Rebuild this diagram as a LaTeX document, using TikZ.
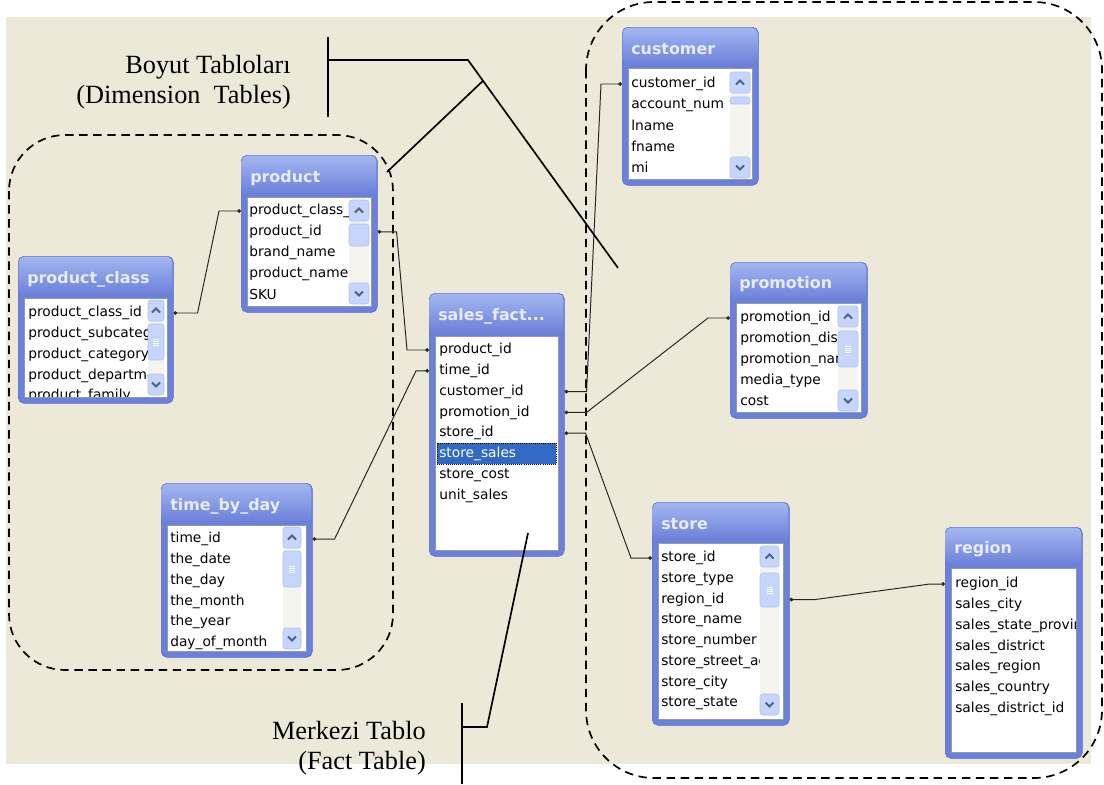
\documentclass[tikz,border=0pt]{standalone}
\usepackage{fontspec}
\setmainfont{Liberation Serif}
\newfontfamily\xpfont{DejaVu Sans}
\usetikzlibrary{arrows.meta,calc}
\definecolor{xpBeige}{HTML}{ECE9D8}
\definecolor{xpTop}{HTML}{A3B6F1}
\definecolor{xpBody}{HTML}{6C80D9}
\definecolor{xpEdge}{HTML}{5669C9}
\definecolor{xpTitle}{HTML}{E6ECFC}
\definecolor{xpList}{HTML}{8C9BB5}
\definecolor{xpTrack}{HTML}{F4F3EE}
\definecolor{xpBtn}{HTML}{C6D5FB}
\definecolor{xpBtnEdge}{HTML}{AFC3F1}
\definecolor{xpArrow}{HTML}{4D6185}
\definecolor{xpSelect}{HTML}{316AC5}

\tikzset{
  tblframe/.style={fill=xpBody, draw=xpEdge, rounded corners=4pt, inner sep=0pt},
  tbltitle/.style={text=xpTitle, font=\xpfont\bfseries\fontsize{11.3}{13}\selectfont, anchor=west, inner sep=0pt},
  tbllist/.style={fill=white, draw=xpList},
  field/.style={font=\xpfont\fontsize{9.8}{11}\selectfont, anchor=west, inner sep=0pt},
  sbbtn/.style={fill=xpBtn, draw=xpBtnEdge, rounded corners=2pt},
  sbchev/.style={draw=xpArrow, line width=1.4pt},
  sbgrip/.style={draw=white, line width=0.4pt},
  link/.style={draw=black!85, line width=0.7pt, {Circle[length=2.6pt]}-{Circle[length=2.6pt]}},
  callout/.style={draw=black, line width=1.2pt},
  dimzone/.style={draw=black, line width=1.2pt, dash pattern=on 6pt off 4pt},
  lbl/.style={font=\fontsize{18.7}{21.8}\selectfont, align=right, anchor=east, inner sep=0pt}
}

% table frame: name, x1, y1, x2, y2, list top, title
\newcommand{\xptable}[7]{%
  \node[tblframe, anchor=north west, minimum width={(#4-#2)*0.025cm}, minimum height={(#5-#3)*0.025cm}] (#1) at (#2,#3) {};
  \shade[top color=xpTop, bottom color=xpBody, rounded corners=4pt] ({#2+0.6},{#3+0.6}) rectangle ({#4-0.6},{#6-3});
  \node[tbltitle] (#1-t) at ({#2+9},{(#3+#6)/2+2}) {#7};
  \draw[tbllist] ({#2+6},#6) rectangle ({#4-6},{#5-6});
}

% scrollbar: x1, x2, top, bottom, thumb top, thumb bottom, grip
\newcommand{\xpscroll}[7]{%
  \fill[xpTrack] (#1,#3) rectangle (#2,#4);
  \draw[sbbtn] (#1,#3) rectangle (#2,{#3+21});
  \draw[sbchev] ({(#1+#2)/2-4},{#3+12.5}) -- ({(#1+#2)/2},{#3+8.5}) -- ({(#1+#2)/2+4},{#3+12.5});
  \draw[sbbtn] (#1,{#4-21}) rectangle (#2,#4);
  \draw[sbchev] ({(#1+#2)/2-4},{#4-12.5}) -- ({(#1+#2)/2},{#4-8.5}) -- ({(#1+#2)/2+4},{#4-12.5});
  \draw[sbbtn] (#1,#5) rectangle (#2,#6);
  \ifnum#7=1
    \foreach \g in {-3,-1,1,3}
      \draw[sbgrip] ({(#1+#2)/2-3},{(#5+#6)/2+\g}) -- ({(#1+#2)/2+3},{(#5+#6)/2+\g});
  \fi
}

\begin{document}
\begin{tikzpicture}[x=0.025cm, y=-0.025cm]
    \useasboundingbox (0,0) rectangle (1104,784);
    % Background
    \fill[xpBeige] (6,17) rectangle (1091,764);

    % Dimension zones
    \draw[dimzone, rounded corners=1.4cm] (9,135) rectangle (393,670);
    \draw[dimzone, rounded corners=1.7cm] (586,2) rectangle (1102,778);

% product_class
    \xptable{pclass}{18}{256}{173}{403}{298}{product\_class}
    \xpscroll{148}{164}{300}{395}{324}{360}{1}
    \begin{scope}
      \clip (25,299) rectangle (147,396);
      \foreach \f [count=\i] in {product\_class\_id, product\_subcategory, product\_category, product\_department, product\_family}
        \node[field] (pc-\i) at (28,{313+20.8*(\i-1)}) {\f};
    \end{scope}

% product
    \xptable{product}{241}{155}{377}{312}{197}{product}
    \xpscroll{349}{369}{200}{304}{224}{246}{0}
    \begin{scope}
      \clip (248,198) rectangle (348,305);
      \foreach \f [count=\i] in {product\_class\_id, product\_id, brand\_name, product\_name, SKU}
        \node[field] (pr-\i) at (249,{211+20.8*(\i-1)}) {\f};
    \end{scope}

% sales_fact
    \xptable{fact}{429}{293}{564}{556}{336}{sales\_fact...}
    \fill[xpSelect] (437,443) rectangle (556,464);
    \draw[black, densely dotted, line width=0.5pt] (437,443) rectangle (556,464);
    \foreach \f/\c [count=\i] in {product\_id/black, time\_id/black, customer\_id/black, promotion\_id/black, store\_id/black, store\_sales/white, store\_cost/black, unit\_sales/black}
      \node[field, text=\c] (sf-\i) at (439,{350+20.8*(\i-1)}) {\f};

% time_by_day
    \xptable{tbd}{161}{483}{312}{657}{525}{time\_by\_day}
    \xpscroll{283}{301}{527}{649}{551}{587}{1}
    \begin{scope}
      \clip (168,526) rectangle (282,650);
      \foreach \f [count=\i] in {time\_id, the\_date, the\_day, the\_month, the\_year, day\_of\_month}
        \node[field] (td-\i) at (170,{539+20.8*(\i-1)}) {\f};
    \end{scope}

% customer
    \xptable{customer}{622}{27}{758}{185}{68}{customer}
    \xpscroll{730}{750}{72}{178}{97}{104}{0}
    \begin{scope}
      \clip (629,69) rectangle (729,179);
      \foreach \f [count=\i] in {customer\_id, account\_num, lname, fname, mi}
        \node[field] (cu-\i) at (631,{84+20.8*(\i-1)}) {\f};
    \end{scope}

% promotion
    \xptable{promo}{730}{262}{867}{418}{303}{promotion}
    \xpscroll{838}{858}{306}{411}{331}{367}{1}
    \begin{scope}
      \clip (738,304) rectangle (837,412);
      \foreach \f [count=\i] in {promotion\_id, promotion\_district\_id, promotion\_name, media\_type, cost}
        \node[field] (pm-\i) at (740,{318+20.8*(\i-1)}) {\f};
    \end{scope}

% store
    \xptable{store}{652}{502}{789}{725}{543}{store}
    \xpscroll{760}{779}{546}{715}{573}{607}{1}
    \begin{scope}
      \clip (659,544) rectangle (759,718);
      \foreach \f [count=\i] in {store\_id, store\_type, region\_id, store\_name, store\_number, store\_street\_address, store\_city, store\_state}
        \node[field] (st-\i) at (661,{558+20.8*(\i-1)}) {\f};
    \end{scope}

% region
    \xptable{region}{945}{527}{1082}{758}{568}{region}
    \begin{scope}
      \clip (953,569) rectangle (1075,751);
      \foreach \f [count=\i] in {region\_id, sales\_city, sales\_state\_province, sales\_district, sales\_region, sales\_country, sales\_district\_id}
        \node[field] (rg-\i) at (955,{584+20.8*(\i-1)}) {\f};
    \end{scope}

% Relations
    \draw[link] (pclass.east |- pc-1) -- ++(24,0) -- ($(product.west |- pr-1)+(-22,0)$) -- (product.west |- pr-1);
    \draw[link] (product.east |- pr-2) -- ++(19,0) -- ($(fact.west |- sf-1)+(-22,0)$) -- (fact.west |- sf-1);
    \draw[link] (tbd.east |- td-1) -- ++(22,0) -- ($(fact.west |- sf-2)+(-13,0)$) -- (fact.west |- sf-2);
    \draw[link] (fact.east |- sf-3) -- ++(22,0) -- ($(customer.west |- cu-1)+(-21,0)$) -- (customer.west |- cu-1);
    \draw[link] (fact.east |- sf-4) -- ++(22,0) -- ($(promo.west |- pm-1)+(-22,0)$) -- (promo.west |- pm-1);
    \draw[link] (fact.east |- sf-5) -- ++(21,0) -- ($(store.west |- st-1)+(-21,0)$) -- (store.west |- st-1);
    \draw[link] (store.east |- st-3) -- ++(25,0) -- ($(region.west |- rg-1)+(-15,0)$) -- (region.west |- rg-1);

% Callouts
    \node[lbl] (dimlbl) at (291,82) {Boyut Tabloları\\(Dimension~~Tables)};
    \coordinate (dimT) at (328,37);
    \coordinate (dimB) at (328,117);
    \coordinate (dimK) at (468,60);
    \coordinate (dimC) at (618,268);
    \coordinate (dimP) at (387,172);
    \coordinate (dimJ) at ($(dimK)!0.1!(dimC)$);
    \draw[callout] (dimT) -- (dimB);
    \draw[callout] (dimT |- dimK) -- (dimK) -- (dimC);
    \draw[callout] (dimJ) -- (dimP);

    \node[lbl] (factlbl) at (426,748) {Merkezi Tablo\\(Fact Table)};
    \coordinate (factT) at (462,703);
    \coordinate (factB) at (462,784);
    \coordinate (factK) at (487,727);
    \coordinate (factP) at (528,533);
    \draw[callout] (factT) -- (factB);
    \draw[callout] (factT |- factK) -- (factK) -- (factP);
\end{tikzpicture}
\end{document}
